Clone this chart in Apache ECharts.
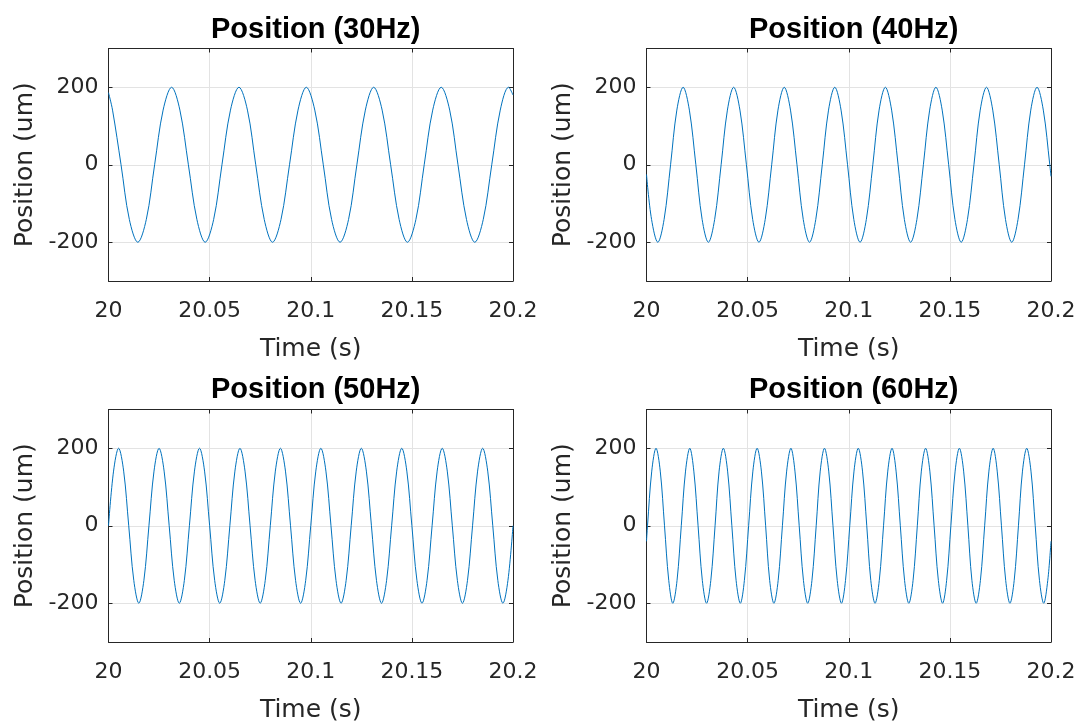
<!DOCTYPE html>
<html>
<head>
<meta charset="utf-8">
<script src="https://cdn.jsdelivr.net/npm/echarts@6/dist/echarts.min.js"></script>
<style>
  html, body { margin: 0; padding: 0; background: #fff; }
  #chart { width: 1079px; height: 724px; }
</style>
</head>
<body>
<div id="chart"></div>
<script>
// Panel titles
const panelTitles = ['Position (30Hz)', 'Position (40Hz)', 'Position (50Hz)', 'Position (60Hz)'];

// Axis ticks
const timeTicks = [20, 20.05, 20.1, 20.15, 20.2];
const positionTicks = [-200, 0, 200];

// 30 Hz trace: time (s) and position (um), eight readings per cycle
const time30 = [20.0000, 20.0020, 20.0062, 20.0103, 20.0145, 20.0187, 20.0228, 20.0270, 20.0312, 20.0353,
  20.0395, 20.0437, 20.0478, 20.0520, 20.0561, 20.0603, 20.0645, 20.0687, 20.0728, 20.0770,
  20.0811, 20.0853, 20.0895, 20.0937, 20.0978, 20.1020, 20.1062, 20.1103, 20.1145, 20.1187,
  20.1228, 20.1270, 20.1311, 20.1353, 20.1395, 20.1437, 20.1478, 20.1520, 20.1561, 20.1603,
  20.1645, 20.1687, 20.1728, 20.1770, 20.1811, 20.1853, 20.1895, 20.1937, 20.1978, 20.2000];
const pos30 = [186, 141, 0, -141, -200, -141, 0, 141, 200, 141,
  0, -141, -200, -141, 0, 141, 200, 141, 0, -141,
  -200, -141, 0, 141, 200, 141, 0, -141, -200, -141,
  0, 141, 200, 141, 0, -141, -200, -141, 0, 141,
  200, 141, 0, -141, -200, -141, 0, 141, 200, 180];

// 40 Hz trace
const time40 = [20.0000, 20.0025, 20.0056, 20.0087, 20.0119, 20.0150, 20.0181, 20.0212, 20.0244, 20.0275,
  20.0306, 20.0337, 20.0369, 20.0400, 20.0431, 20.0462, 20.0494, 20.0525, 20.0556, 20.0587,
  20.0619, 20.0650, 20.0681, 20.0712, 20.0744, 20.0775, 20.0806, 20.0837, 20.0869, 20.0900,
  20.0931, 20.0962, 20.0994, 20.1025, 20.1056, 20.1087, 20.1119, 20.1150, 20.1181, 20.1212,
  20.1244, 20.1275, 20.1306, 20.1337, 20.1369, 20.1400, 20.1431, 20.1462, 20.1494, 20.1525,
  20.1556, 20.1587, 20.1619, 20.1650, 20.1681, 20.1712, 20.1744, 20.1775, 20.1806, 20.1837,
  20.1869, 20.1900, 20.1931, 20.1962, 20.1994, 20.2000];
const pos40 = [-25, -141, -200, -141, 0, 141, 200, 141, 0, -141,
  -200, -141, 0, 141, 200, 141, 0, -141, -200, -141,
  0, 141, 200, 141, 0, -141, -200, -141, 0, 141,
  200, 141, 0, -141, -200, -141, 0, 141, 200, 141,
  0, -141, -200, -141, 0, 141, 200, 141, 0, -141,
  -200, -141, 0, 141, 200, 141, 0, -141, -200, -141,
  0, 141, 200, 141, 0, -30];

// 50 Hz trace
const time50 = [20.0000, 20.0025, 20.0050, 20.0075, 20.0100, 20.0125, 20.0150, 20.0175,
  20.0200, 20.0225, 20.0250, 20.0275, 20.0300, 20.0325, 20.0350, 20.0375,
  20.0400, 20.0425, 20.0450, 20.0475, 20.0500, 20.0525, 20.0550, 20.0575,
  20.0600, 20.0625, 20.0650, 20.0675, 20.0700, 20.0725, 20.0750, 20.0775,
  20.0800, 20.0825, 20.0850, 20.0875, 20.0900, 20.0925, 20.0950, 20.0975,
  20.1000, 20.1025, 20.1050, 20.1075, 20.1100, 20.1125, 20.1150, 20.1175,
  20.1200, 20.1225, 20.1250, 20.1275, 20.1300, 20.1325, 20.1350, 20.1375,
  20.1400, 20.1425, 20.1450, 20.1475, 20.1500, 20.1525, 20.1550, 20.1575,
  20.1600, 20.1625, 20.1650, 20.1675, 20.1700, 20.1725, 20.1750, 20.1775,
  20.1800, 20.1825, 20.1850, 20.1875, 20.1900, 20.1925, 20.1950, 20.1975,
  20.2000];
const pos50 = [0, 141, 200, 141, 0, -141, -200, -141,
  0, 141, 200, 141, 0, -141, -200, -141,
  0, 141, 200, 141, 0, -141, -200, -141,
  0, 141, 200, 141, 0, -141, -200, -141,
  0, 141, 200, 141, 0, -141, -200, -141,
  0, 141, 200, 141, 0, -141, -200, -141,
  0, 141, 200, 141, 0, -141, -200, -141,
  0, 141, 200, 141, 0, -141, -200, -141,
  0, 141, 200, 141, 0, -141, -200, -141,
  0, 141, 200, 141, 0, -141, -200, -141,
  0];

// 60 Hz trace
const time60 = [20.0000,
  20.0005, 20.0026, 20.0047, 20.0068, 20.0089, 20.0110, 20.0130, 20.0151,
  20.0172, 20.0193, 20.0214, 20.0234, 20.0255, 20.0276, 20.0297, 20.0318,
  20.0339, 20.0359, 20.0380, 20.0401, 20.0422, 20.0443, 20.0464, 20.0484,
  20.0505, 20.0526, 20.0547, 20.0568, 20.0589, 20.0609, 20.0630, 20.0651,
  20.0672, 20.0693, 20.0714, 20.0734, 20.0755, 20.0776, 20.0797, 20.0818,
  20.0839, 20.0859, 20.0880, 20.0901, 20.0922, 20.0943, 20.0964, 20.0984,
  20.1005, 20.1026, 20.1047, 20.1068, 20.1089, 20.1109, 20.1130, 20.1151,
  20.1172, 20.1193, 20.1214, 20.1234, 20.1255, 20.1276, 20.1297, 20.1318,
  20.1339, 20.1359, 20.1380, 20.1401, 20.1422, 20.1443, 20.1464, 20.1484,
  20.1505, 20.1526, 20.1547, 20.1568, 20.1589, 20.1609, 20.1630, 20.1651,
  20.1672, 20.1693, 20.1714, 20.1734, 20.1755, 20.1776, 20.1797, 20.1818,
  20.1839, 20.1859, 20.1880, 20.1901, 20.1922, 20.1943, 20.1964, 20.1984,
  20.2000];
const pos60 = [-40,
  0, 141, 200, 141, 0, -141, -200, -141,
  0, 141, 200, 141, 0, -141, -200, -141,
  0, 141, 200, 141, 0, -141, -200, -141,
  0, 141, 200, 141, 0, -141, -200, -141,
  0, 141, 200, 141, 0, -141, -200, -141,
  0, 141, 200, 141, 0, -141, -200, -141,
  0, 141, 200, 141, 0, -141, -200, -141,
  0, 141, 200, 141, 0, -141, -200, -141,
  0, 141, 200, 141, 0, -141, -200, -141,
  0, 141, 200, 141, 0, -141, -200, -141,
  0, 141, 200, 141, 0, -141, -200, -141,
  0, 141, 200, 141, 0, -141, -200, -141,
  -40];

const traces = [[time30, pos30], [time40, pos40], [time50, pos50], [time60, pos60]];

// Layout of the 2x2 subplot grid (pixels)
const cols = [108.5, 646.5];
const rows = [48.5, 409.5];
const plotW = 404.5;
const plotH = 232.5;

const axisColor = '#262626';
const gridColor = '#e3e3e3';
const lineColor = '#0072BD';
const textFont = 'DejaVu Sans';

const grids = [], xAxes = [], yAxes = [], series = [], titles = [];

traces.forEach(function (tr, i) {
  const left = cols[i % 2];
  const top = rows[Math.floor(i / 2)];
  grids.push({ left: left, top: top, width: plotW, height: plotH, containLabel: false });

  const xBase = {
    type: 'value', gridIndex: i, min: timeTicks[0], max: timeTicks[timeTicks.length - 1], interval: 0.05,
    axisLine: { show: true, onZero: false, lineStyle: { color: axisColor, width: 1 } },
    axisTick: { show: true, inside: true, length: 4, customValues: timeTicks, lineStyle: { color: axisColor, width: 1 } }
  };
  xAxes.push(Object.assign({}, xBase, {
    position: 'bottom',
    name: 'Time (s)', nameLocation: 'middle', nameGap: 56,
    nameTextStyle: { fontFamily: textFont, fontSize: 25, color: axisColor },
    axisLabel: {
      show: true, margin: 19, customValues: timeTicks,
      fontFamily: textFont, fontSize: 22, color: axisColor,
      formatter: function (v) { return String(+(+v).toFixed(2)); }
    },
    splitLine: { show: true, lineStyle: { color: gridColor, width: 1 } }
  }));
  xAxes.push(Object.assign({}, xBase, {
    position: 'top',
    axisLabel: { show: false },
    splitLine: { show: false }
  }));

  const yBase = {
    type: 'value', gridIndex: i, min: -300, max: 300, interval: 100,
    axisLine: { show: true, onZero: false, lineStyle: { color: axisColor, width: 1 } },
    axisTick: { show: true, inside: true, length: 4, customValues: positionTicks, lineStyle: { color: axisColor, width: 1 } }
  };
  yAxes.push(Object.assign({}, yBase, {
    position: 'left',
    name: 'Position (um)', nameLocation: 'middle', nameGap: 71,
    nameTextStyle: { fontFamily: textFont, fontSize: 25, color: axisColor },
    axisLabel: {
      show: true, margin: 10, customValues: positionTicks,
      fontFamily: textFont, fontSize: 22, color: axisColor,
      formatter: function (v) { return positionTicks.indexOf(v) >= 0 ? String(v) : ''; }
    },
    splitLine: { show: true, lineStyle: { color: gridColor, width: 1 } }
  }));
  yAxes.push(Object.assign({}, yBase, {
    position: 'right',
    axisLabel: { show: false },
    splitLine: { show: false }
  }));

  series.push({
    type: 'line',
    xAxisIndex: 2 * i,
    yAxisIndex: 2 * i,
    data: tr[0].map(function (t, k) { return [t, tr[1][k]]; }),
    showSymbol: false,
    smooth: 0.35,
    clip: true,
    lineStyle: { color: lineColor, width: 1 },
    itemStyle: { color: lineColor },
    z: 3
  });

  titles.push({
    text: panelTitles[i],
    left: left + plotW / 2,
    top: top - 40 - (i >= 2 ? 1.5 : 0),
    textAlign: 'center',
    textStyle: { fontFamily: 'Liberation Sans', fontWeight: 'bold', fontSize: 29, color: '#000', lineHeight: 33 }
  });
});

const chart = echarts.init(document.getElementById('chart'), null, { renderer: 'canvas' });
chart.setOption({
  animation: false,
  backgroundColor: '#ffffff',
  title: titles,
  grid: grids,
  xAxis: xAxes,
  yAxis: yAxes,
  series: series
});
</script>
</body>
</html>
